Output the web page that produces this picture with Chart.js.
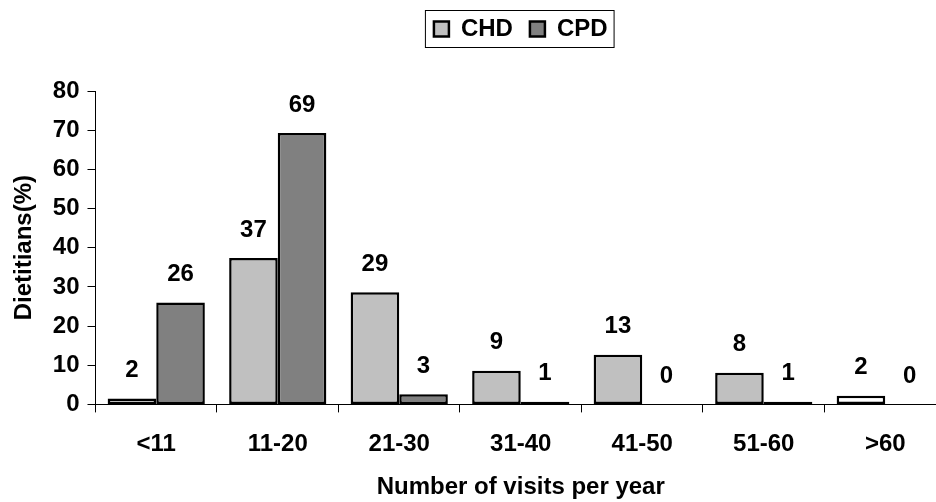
<!DOCTYPE html>
<html>
<head>
<meta charset="utf-8">
<script src="https://cdn.jsdelivr.net/npm/chart.js@4.4.0/dist/chart.umd.min.js"></script>
<style>
  html, body { margin: 0; padding: 0; background: #fff; overflow: hidden; }
  #wrap { width: 946px; height: 502px; }
</style>
</head>
<body>
<div id="wrap"><canvas id="myChart" width="946" height="502"></canvas></div>
<script>
// categorie (visite per anno)
const categorie = ["<11", "11-20", "21-30", "31-40", "41-50", "51-60", ">60"];
// valori
const chdValori = [1.5, 37.4, 28.6, 8.6, 12.7, 8.1, 2.2];
const cpdValori = [26.0, 69.3, 2.6, 0.7, 0, 0.7, 0];
// etichette sopra le barre
const chdEtichette = ["2", "37", "29", "9", "13", "8", "2"];
const cpdEtichette = ["26", "69", "3", "1", "0", "1", "0"];
const yTicks = [0, 10, 20, 30, 40, 50, 60, 70, 80];

const FONT = "'Liberation Sans', Arial, sans-serif";
const coloriSerie = ["#c0c0c0", "#808080"];

// barre molto basse vengono riempite di bianco come nell'originale
function riempimento(colore) {
  return (ctx) => {
    if (ctx.type === "data" && ctx.raw < 2.4) return "#ffffff";
    return colore;
  };
}

// etichette dei valori sopra ogni barra
const etichettePlugin = {
  id: "etichette",
  afterInit(chart) {
    // spazio extra sotto la legenda
    const legend = chart.legend;
    const fitOrig = legend.fit;
    legend.fit = function () {
      fitOrig.call(this);
      this.height += 40;
    };
  },
  afterDatasetsDraw(chart) {
    const ctx = chart.ctx;
    const liste = [chdEtichette, cpdEtichette];
    ctx.save();
    ctx.font = "bold 24px " + FONT;
    ctx.fillStyle = "#000";
    ctx.textAlign = "center";
    ctx.textBaseline = "middle";
    chart.data.datasets.forEach((ds, i) => {
      chart.getDatasetMeta(i).data.forEach((bar, j) => {
        ctx.fillText(liste[i][j], bar.x, bar.y - 28);
      });
    });
    ctx.restore();
  },
};

// cornice attorno alla legenda
const cornicePlugin = {
  id: "cornice",
  afterDraw(chart) {
    const boxes = chart.legend.legendHitBoxes;
    if (!boxes || !boxes.length) return;
    const left = Math.min(...boxes.map((b) => b.left)) - 9;
    const right = Math.max(...boxes.map((b) => b.left + b.width)) + 6;
    const top = Math.min(...boxes.map((b) => b.top)) - 7;
    const bottom = Math.max(...boxes.map((b) => b.top + b.height)) + 6;
    const ctx = chart.ctx;
    ctx.save();
    ctx.strokeStyle = "#000";
    ctx.lineWidth = 1;
    ctx.strokeRect(left + 0.5, top + 0.5, right - left, bottom - top);
    ctx.restore();
  },
};

const data = {
  labels: categorie,
  datasets: [
    {
      label: "CHD",
      data: chdValori,
      backgroundColor: riempimento(coloriSerie[0]),
      borderColor: "#000",
      borderWidth: 2.5,
      borderSkipped: false,
    },
    {
      label: "CPD",
      data: cpdValori,
      backgroundColor: riempimento(coloriSerie[1]),
      borderColor: "#000",
      borderWidth: 2.5,
      borderSkipped: false,
    },
  ],
};

const config = {
  type: "bar",
  data: data,
  options: {
    responsive: false,
    animation: false,
    layout: { padding: { top: 0, left: 0, right: 0, bottom: 0 } },
    datasets: {
      bar: { categoryPercentage: 0.8, barPercentage: 1.0 },
    },
    scales: {
      x: {
        grid: {
          display: true,
          drawOnChartArea: false,
          drawTicks: true,
          tickLength: 8,
          color: "#000",
          lineWidth: 1,
          offset: true,
        },
        border: { display: true, color: "#000", width: 1 },
        ticks: {
          color: "#000",
          font: { family: FONT, size: 24, weight: "bold" },
          padding: 18,
          maxRotation: 0,
        },
        title: {
          display: true,
          text: "Number of visits per year",
          color: "#000",
          font: { family: FONT, size: 24, weight: "bold" },
          padding: { top: -4, bottom: 0 },
        },
      },
      y: {
        min: 0,
        max: 80,
        afterBuildTicks: (axis) => {
          axis.ticks = yTicks.map((v) => ({ value: v }));
        },
        grid: {
          display: true,
          drawOnChartArea: false,
          drawTicks: true,
          tickLength: 8,
          color: "#000",
          lineWidth: 1,
        },
        border: { display: true, color: "#000", width: 1 },
        ticks: {
          color: "#000",
          font: { family: FONT, size: 24, weight: "bold" },
          padding: 8,
        },
        title: {
          display: true,
          text: "Dietitians(%)",
          color: "#000",
          font: { family: FONT, size: 24, weight: "bold" },
          padding: { top: 10, bottom: 6 },
        },
      },
    },
    plugins: {
      tooltip: { enabled: false },
      legend: {
        display: true,
        position: "top",
        align: "center",
        fullSize: false,
        labels: {
          color: "#000",
          font: { family: FONT, size: 24, weight: "bold" },
          boxWidth: 15,
          boxHeight: 15,
          padding: 17,
          generateLabels: (chart) =>
            Chart.defaults.plugins.legend.labels
              .generateLabels(chart)
              .map((l, i) => ({ ...l, fillStyle: coloriSerie[i] })),
        },
      },
    },
  },
  plugins: [etichettePlugin, cornicePlugin],
};

const myChart = new Chart(document.getElementById("myChart"), config);
</script>
</body>
</html>
